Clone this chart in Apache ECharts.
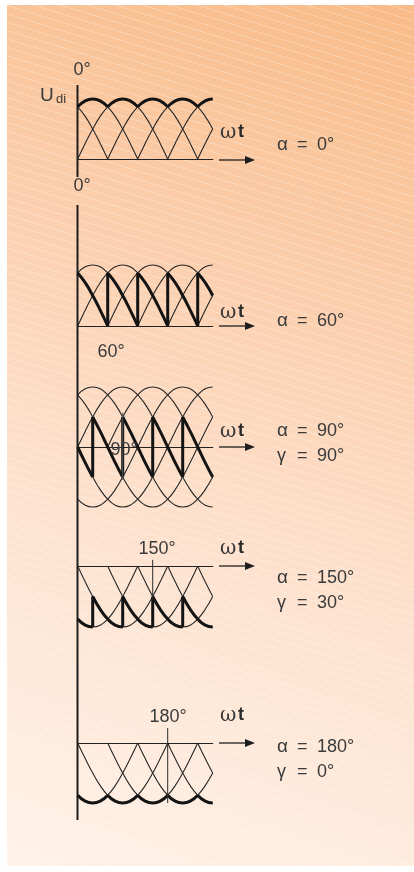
<!DOCTYPE html>
<html lang="en">
<head>
<meta charset="UTF-8">
<title>Udi - firing angle</title>
<script src="https://cdn.jsdelivr.net/npm/echarts@6/dist/echarts.min.js"></script>
<style>
html, body { margin: 0; padding: 0; background: #fff; }
#panel {
  position: absolute; left: 7px; top: 5px; width: 407px; height: 861px;
  background:
    repeating-linear-gradient(197deg, rgba(255,255,255,0) 0px, rgba(255,255,255,0) 7px, rgba(255,255,255,0.25) 7px, rgba(255,255,255,0.25) 8px),
    linear-gradient(200deg, #f8bb88 0%, #fbcdaa 30%, #fde1cd 60%, #fff2e8 100%);
}
#main { position: absolute; left: 0; top: 0; width: 414px; height: 872px; }
</style>
</head>
<body>
<div id="panel"></div>
<div id="main"></div>
<script type="text/javascript">
// shape of one half wave, read at 15 deg steps from the peak (0..180 deg)
var step = 15;
var halfShape = [1, 0.97, 0.87, 0.71, 0.5, 0.26, 0, -0.26, -0.5, -0.71, -0.87, -0.97, -1];
// peak angles of the six phase voltages (deg of wt)
var phasePeaks = [-150, -90, -30, 30, 90, 150, 210, 270, 330];
var xMax = 270;

// one entry per diagram, top to bottom
var alphas = [0, 60, 90, 150, 180];
var waveParts = ['pos', 'pos', 'both', 'neg', 'neg'];
var alphaValues = ['0°', '60°', '90°', '150°', '180°'];
var gammaValues = [null, null, '90°', '30°', '0°'];
var markerAngles = [null, null, 90, 150, 180];
var markerFrom = [null, null, -0.55, -0.56, -1];
var markerTo = [null, null, 0.57, 0.1, 0.25];
var angleLabels = [null, '60°', '90°', '150°', '180°'];

var grids = [
  {top: 99, height: 60, min: 0, max: 1},
  {top: 265, height: 61, min: 0, max: 1},
  {top: 387, height: 120, min: -1, max: 1},
  {top: 566, height: 61, min: -1, max: 0},
  {top: 743, height: 60, min: -1, max: 0}
];
var left = 77.7, width = 135;

function wave(p, t) {
  var d = (((t - p) % 360) + 360) % 360;
  if (d > 180) d = 360 - d;
  return halfShape[Math.round(d / step)];
}

function segment(p, from, to) {
  var pts = [];
  for (var t = from; t <= to; t += step) {
    if (t >= 0 && t <= xMax) pts.push([t, wave(p, t)]);
  }
  return pts;
}

var thin = {color: '#262626', width: 1.1};
var thick = {color: '#141414', width: 3};

var series = [];
function addLine(i, data, style, smooth) {
  if (data.length < 2) return;
  series.push({
    type: 'line', xAxisIndex: i, yAxisIndex: i, data: data,
    smooth: smooth, symbol: 'none', silent: true, clip: false,
    lineStyle: {color: style.color, width: style.width}
  });
}

var xAxes = [], yAxes = [], gridOpts = [];
grids.forEach(function (g, i) {
  gridOpts.push({left: left, width: width, top: g.top, height: g.height});
  xAxes.push({
    type: 'value', gridIndex: i, min: 0, max: xMax,
    axisLine: {show: true, onZero: true, lineStyle: {color: '#222', width: 1.2}},
    axisTick: {show: false}, axisLabel: {show: false}, splitLine: {show: false}
  });
  yAxes.push({type: 'value', gridIndex: i, min: g.min, max: g.max, show: false, splitLine: {show: false}});

  // thin phase voltages (positive and/or negative half waves)
  phasePeaks.forEach(function (p) {
    if (waveParts[i] !== 'neg') addLine(i, segment(p, p - 90, p + 90), thin, true);
    if (waveParts[i] !== 'pos') addLine(i, segment(p, p + 90, p + 270), thin, true);
  });

  // thick output voltage Udi
  var a = alphas[i];
  phasePeaks.forEach(function (p) {
    addLine(i, segment(p, p - 30 + a, p + 30 + a), thick, true);
    var tb = p + 30 + a;
    if (tb > 0 && tb < xMax) {
      var v1 = wave(p, tb), v2 = wave(p + 60, tb);
      if (Math.abs(v1 - v2) > 0.01) addLine(i, [[tb, v1], [tb, v2]], thick, false);
    }
  });

  // angle marker
  if (markerAngles[i] !== null) {
    addLine(i, [[markerAngles[i], markerFrom[i]], [markerAngles[i], markerTo[i]]],
      {color: i === 2 ? '#555' : '#2a2a2a', width: 1}, false);
  }
});

// texts, arrows and the vertical axis
var txtColor = '#3a3a3a';
var font = '18px "Liberation Sans", Arial, sans-serif';
var graphic = [];
function text(str, x, y, f, align, color) {
  graphic.push({type: 'text', silent: true, z: 10, style: {
    text: str, x: x, y: y, font: f || font, fill: color || txtColor,
    align: align || 'left', verticalAlign: 'middle'
  }});
}
function line(x1, y1, x2, y2, w) {
  graphic.push({type: 'line', silent: true, shape: {x1: x1, y1: y1, x2: x2, y2: y2},
    style: {stroke: '#1e1e1e', lineWidth: w}});
}

line(77.5, 85, 77.5, 177, 2);
line(77.5, 205, 77.5, 820, 2);

text('0°', 82, 70, null, 'center');
text('U', 40, 96, '19px "Liberation Sans", Arial, sans-serif');
text('di', 56, 99, '13px "Liberation Sans", Arial, sans-serif');
text('0°', 82, 186, null, 'center');

var baselines = [160, 326, 447, 566, 743];
var wtY = [133, 313, 432, 549, 716];
var alphaY = [145, 321, 431, 578, 747];
var labelPos = [null, [111, 352], [124, 450], [157, 549], [168, 717]];

baselines.forEach(function (y, i) {
  line(219, y, 247, y, 1.3);
  graphic.push({type: 'polygon', silent: true,
    shape: {points: [[245, y - 4], [255, y], [245, y + 4]]}, style: {fill: '#1e1e1e'}});
  text('ω', 220, wtY[i], '20px "DejaVu Serif", serif');
  text('t', 238, wtY[i] - 1, 'bold 18px "Liberation Sans", Arial, sans-serif', 'left', '#2a2a2a');
  text('α', 277, alphaY[i], '19px "Liberation Sans", Arial, sans-serif');
  text('=', 297, alphaY[i]);
  text(alphaValues[i], 317, alphaY[i]);
  if (gammaValues[i]) {
    text('γ', 277, alphaY[i] + 25, '18px "Liberation Sans", Arial, sans-serif');
    text('=', 297, alphaY[i] + 25);
    text(gammaValues[i], 317, alphaY[i] + 25);
  }
  if (angleLabels[i]) text(angleLabels[i], labelPos[i][0], labelPos[i][1], null, 'center');
});

var chart = echarts.init(document.getElementById('main'));
chart.setOption({
  backgroundColor: 'transparent',
  animation: false,
  grid: gridOpts,
  xAxis: xAxes,
  yAxis: yAxes,
  series: series,
  graphic: graphic
});
</script>
</body>
</html>
